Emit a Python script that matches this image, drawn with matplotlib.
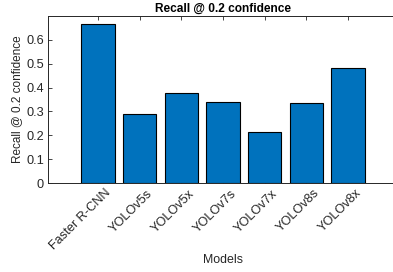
import numpy as np
import matplotlib
matplotlib.use("Agg")
import matplotlib.pyplot as plt
from matplotlib.transforms import ScaledTranslation

# data
models = ["Faster R-CNN", "YOLOv5s", "YOLOv5x", "YOLOv7s", "YOLOv7x", "YOLOv8s", "YOLOv8x"]
recall = [0.668, 0.291, 0.379, 0.341, 0.213, 0.334, 0.483]

plt.rcParams['font.family'] = ['Liberation Sans', 'DejaVu Sans']
txt = '#262626'

fig = plt.figure(figsize=(3.93, 2.72), dpi=100)
ax = fig.add_axes([48/393, 89/272, 350/393, 167/272])

x = np.arange(1, len(models) + 1)
ax.bar(x, recall, width=0.8, color='#0072BD', edgecolor='black', linewidth=0.8, zorder=2)

ax.set_xlim(-0.2, 8.2)
ax.set_ylim(0, 0.7)
ax.set_yticks(np.arange(0, 0.61, 0.1))
ax.set_yticklabels(['0', '0.1', '0.2', '0.3', '0.4', '0.5', '0.6'])
ax.set_xticks(x)
ax.set_xticklabels(models, rotation=45, ha='right', va='top', rotation_mode='anchor')

ax.tick_params(direction='in', length=3, width=0.6, colors=txt, labelsize=9.2,
               top=True, right=True, pad=3)
# MATLAB puts the end of a rotated label a little right of its tick
shift = ScaledTranslation(7/100, 0, fig.dpi_scale_trans)
for lab in ax.get_xticklabels():
    lab.set_transform(lab.get_transform() + shift)

for s in ax.spines.values():
    s.set_color(txt)
    s.set_linewidth(0.7)

ax.set_title('Recall @ 0.2 confidence', fontsize=8.6, fontweight='bold', color='black', pad=3)
ax.set_ylabel('Recall @ 0.2 confidence', fontsize=8.5, color=txt, labelpad=2)
ax.set_xlabel('Models', fontsize=8.9, color=txt, labelpad=1)

fig.savefig('out.png', dpi=100)
